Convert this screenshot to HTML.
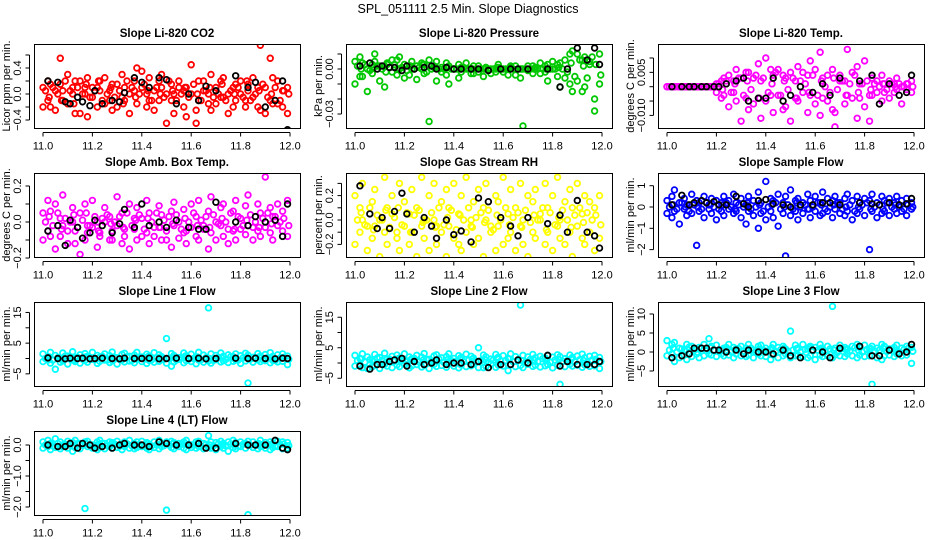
<!DOCTYPE html>
<html><head><meta charset="utf-8"><style>
body{margin:0;background:#fff;}
svg{display:block;font-family:"Liberation Sans",sans-serif;}
</style></head><body>
<svg id="chart" width="936" height="540" viewBox="0 0 936 540">
<rect width="936" height="540" fill="#fff"/>
<text x="468" y="13" text-anchor="middle" font-size="12.5">SPL_051111  2.5 Min. Slope Diagnostics</text>
</svg>
<script>
const times=[11.00,11.02,11.03,11.05,11.07,11.08,11.10,11.12,11.13,11.15,11.17,11.18,11.20,11.22,11.23,11.25,11.27,11.28,11.30,11.32,11.33,11.35,11.37,11.38,11.40,11.42,11.43,11.45,11.47,11.48,11.50,11.52,11.53,11.55,11.57,11.58,11.60,11.62,11.63,11.65,11.67,11.68,11.70,11.72,11.73,11.75,11.77,11.78,11.80,11.82,11.83,11.85,11.87,11.88,11.90,11.92,11.93,11.95,11.97,11.99];
const timesC=[11.01,11.025,11.04,11.06,11.075,11.09,11.11,11.125,11.14,11.16,11.175,11.19,11.21,11.225,11.24,11.26,11.275,11.29,11.31,11.325,11.34,11.36,11.375,11.39,11.41,11.425,11.44,11.46,11.475,11.49,11.51,11.525,11.54,11.56,11.575,11.59,11.61,11.625,11.64,11.66,11.675,11.69,11.71,11.725,11.74,11.76,11.775,11.79,11.81,11.825,11.84,11.86,11.875,11.89,11.91,11.925,11.94,11.96,11.975,11.995];
const blackTimes=[11.02,11.06,11.09,11.11,11.14,11.16,11.19,11.21,11.24,11.28,11.31,11.33,11.37,11.40,11.43,11.47,11.50,11.54,11.59,11.63,11.66,11.70,11.78,11.83,11.86,11.90,11.94,11.97,11.99];
const xTicks=[11.0,11.2,11.4,11.6,11.8,12.0];

const co2A=[0.1,0.2,-0.2,0.05,0.15,-0.1,0.3,0.0,0.2,-0.3,0.1,0.25,-0.05,0.1,0.2,-0.15,0.05,-0.25,0.15,0.3,-0.1,0.0,0.2,0.4,0.1,-0.2,0.25,0.05,-0.1,0.3,-0.45,0.15,0.0,0.2,-0.2,0.1,0.45,-0.25,0.2,0.05,-0.15,0.3,0.1,-0.05,0.25,0.0,-0.2,0.15,0.2,-0.1,0.05,0.25,-0.2,0.75,0.1,0.55,-0.15,0.2,0.05,-0.3];
const co2B=[-0.2,-0.1,0.15,-0.25,0.55,0.05,-0.15,0.1,-0.3,0.2,0.0,-0.35,0.1,-0.2,0.05,0.25,-0.1,0.15,-0.2,-0.05,0.1,-0.3,0.05,-0.15,0.35,0.0,-0.1,-0.25,0.2,0.1,0.0,-0.1,-0.3,0.1,0.05,-0.35,0.0,-0.45,-0.1,0.2,0.0,-0.25,-0.15,0.2,-0.05,-0.3,0.1,-0.1,0.0,-0.2,0.15,-0.05,0.1,-0.25,-0.3,-0.1,0.25,-0.15,-0.2,0.1];
const co2C=[0.05,-0.05,0.1,0.0,-0.1,0.2,0.05,-0.15,0.1,0.0,0.15,-0.05,0.05,0.2,-0.1,0.0,0.1,-0.05,0.05,-0.15,0.2,0.1,-0.05,0.0,0.15,0.05,-0.1,0.1,0.0,-0.05,0.2,0.05,-0.1,0.0,0.1,-0.05,0.15,0.0,-0.1,0.05,0.1,-0.05,0.0,0.15,-0.1,0.05,0.0,0.1,-0.05,0.2,-0.1,0.0,0.05,0.15,-0.05,0.0,0.1,-0.1,0.05,0.0];
const co2K=[0.2,0.18,-0.12,-0.15,-0.05,-0.12,-0.18,0.05,-0.15,-0.1,-0.12,0.02,0.25,0.18,0.1,0.25,0.22,-0.15,0.0,-0.1,0.12,0.05,0.28,0.1,0.18,-0.2,-0.1,0.2,-0.55];

const presA=[0.005,0.008,-0.005,0.0,0.003,0.01,-0.008,0.002,0.004,-0.002,0.006,0.0,0.003,-0.004,0.005,0.002,0.0,-0.003,0.006,0.002,-0.008,0.001,0.004,-0.01,0.0,0.003,-0.002,0.004,0.0,-0.003,0.002,-0.005,0.001,0.0,-0.002,0.003,0.0,-0.004,0.001,0.002,-0.006,0.0,0.002,-0.003,0.001,0.004,-0.002,0.003,0.0,-0.005,0.004,0.006,-0.01,0.012,0.01,-0.015,0.008,0.005,-0.02,0.01];
const presB=[-0.01,-0.005,0.004,-0.015,-0.003,0.005,0.002,-0.012,0.003,0.006,-0.004,0.008,-0.006,0.002,0.0,-0.007,0.004,0.003,-0.035,0.001,0.005,-0.002,-0.004,0.002,0.0,-0.006,0.001,0.0,-0.003,0.002,-0.002,0.0,0.001,-0.003,0.0,0.001,-0.002,0.0,0.002,-0.004,0.0,-0.038,-0.001,0.002,0.0,-0.003,0.002,-0.008,0.005,0.003,-0.012,-0.006,0.01,-0.015,-0.008,0.006,-0.012,0.003,-0.028,-0.01];
const presC=[0.002,0.0,0.003,-0.001,0.001,0.002,0.0,-0.002,0.001,0.003,0.0,0.001,-0.001,0.002,0.0,0.001,0.003,-0.002,0.0,0.001,0.0,0.0,0.001,0.0,0.0,0.0,0.001,0.0,0.0,0.0,0.0,0.0,0.0,0.0,0.001,0.0,0.0,0.0,0.0,0.0,0.0,0.0,0.0,0.0,0.0,0.0,0.0,0.0,0.0,0.001,0.0,-0.002,0.004,-0.005,0.006,0.002,-0.006,0.008,0.003,-0.004];
const presK=[0.002,0.004,0.0,0.002,0.001,0.001,-0.001,0.002,0.0,0.001,0.002,0.0,0.001,0.0,0.0,0.0,0.0,-0.001,0.0,0.0,0.0,0.0,0.0,-0.012,0.0,0.014,0.006,0.014,0.003];

const tempA=[0,0,0,0,0,0,0,0,0,0,0,0,0.001,0.002,-0.003,0.004,-0.002,0.006,0.003,-0.004,0.005,-0.006,0.008,0.002,0.01,-0.003,0.004,0.006,-0.008,0.003,0.005,-0.004,0.007,-0.002,0.004,0.009,-0.006,0.012,0.003,-0.005,0.006,-0.009,0.004,0.002,0.013,-0.004,0.007,0.001,0.009,-0.003,0.003,0.002,0.004,-0.002,0.002,0.001,0.003,0.0,0.001,0.002];
const tempB=[0,0,0,0,0,0,0,0,0,0,0,0,-0.002,-0.004,0.003,-0.007,0.002,-0.005,-0.012,0.005,-0.008,0.003,-0.004,-0.011,-0.005,0.006,-0.009,-0.003,0.004,-0.007,-0.012,0.002,-0.005,0.005,-0.009,-0.003,0.006,-0.01,-0.004,0.004,-0.008,-0.014,0.002,-0.006,-0.003,0.005,-0.011,-0.004,-0.007,-0.012,-0.003,-0.002,-0.005,0.001,-0.004,-0.002,-0.001,-0.006,-0.001,-0.002];
const tempC=[0,0,0,0,0,0,0,0,0,0,0,0,0.001,-0.001,0.002,-0.002,0.001,0.003,-0.003,0.002,-0.001,0.004,-0.004,0.003,-0.002,0.001,0.005,-0.003,0.002,-0.001,0.003,-0.004,0.002,0.001,-0.002,0.004,-0.003,0.002,0.0,-0.002,0.003,-0.001,0.002,-0.003,0.001,0.004,-0.002,0.001,0.002,-0.001,0.001,0.0,0.001,-0.001,0.001,0.0,0.001,0.0,0.001,0.0];
const tempK=[0,0,0,0,0,0,0,0,0.001,0.002,0.003,-0.005,-0.004,-0.004,0.003,-0.005,-0.003,0.0,-0.002,0.001,-0.003,0.003,0.002,0.004,-0.006,0.001,-0.003,-0.002,0.004];

const ambA=[0.05,0.12,-0.08,0.1,0.02,0.15,-0.05,0.08,-0.12,0.05,0.1,-0.02,0.12,0.0,-0.06,0.08,0.03,-0.1,0.14,0.05,-0.04,0.1,0.02,0.08,-0.08,0.12,0.05,-0.03,0.09,0.04,-0.1,0.06,0.11,0.0,0.07,-0.05,0.1,0.03,0.12,-0.02,0.06,0.14,0.0,0.08,0.1,-0.04,0.06,0.12,0.02,0.09,0.15,-0.03,0.1,0.05,0.25,0.08,0.03,0.1,0.06,0.12];
const ambB=[-0.1,-0.05,0.06,-0.15,-0.08,-0.02,-0.12,0.0,-0.05,-0.18,-0.1,-0.06,-0.03,-0.14,-0.08,0.0,-0.1,-0.05,-0.02,-0.12,-0.08,-0.15,-0.04,-0.1,0.02,-0.06,-0.12,-0.08,-0.03,-0.1,-0.05,-0.14,-0.02,-0.09,-0.06,-0.12,-0.03,-0.08,-0.1,-0.04,-0.15,-0.06,-0.1,-0.02,-0.08,-0.12,-0.05,-0.1,-0.04,-0.07,-0.02,-0.1,-0.05,-0.08,-0.03,-0.06,-0.1,-0.02,-0.05,-0.08];
const ambC=[0.0,0.03,-0.02,0.05,-0.04,0.02,0.0,0.04,-0.03,0.01,0.05,-0.02,0.03,-0.05,0.02,0.04,-0.01,0.0,0.03,-0.03,0.05,-0.02,0.01,0.04,-0.04,0.02,0.0,0.05,-0.03,0.01,0.03,-0.01,0.04,-0.04,0.02,0.0,0.05,-0.02,0.01,0.03,-0.03,0.04,-0.01,0.02,0.0,0.05,-0.04,0.03,-0.02,0.01,0.04,0.0,-0.03,0.02,0.05,-0.01,0.03,0.0,0.02,-0.02];
const ambK=[-0.05,-0.02,-0.13,0.01,-0.03,-0.09,-0.06,0.01,-0.02,-0.06,-0.01,0.07,-0.03,0.1,-0.02,0.0,-0.03,0.01,-0.03,-0.04,-0.04,0.11,0.0,-0.02,0.03,0.0,0.01,-0.08,0.1];

const rhA=[0.2,0.1,0.3,-0.05,0.15,0.25,0.0,0.35,0.1,0.2,-0.1,0.3,0.15,0.05,0.25,0.1,0.35,0.0,0.2,0.3,-0.05,0.15,0.25,0.1,0.3,0.05,0.2,0.35,0.0,0.15,0.25,0.1,0.3,-0.05,0.2,0.15,0.35,0.05,0.25,0.1,0.3,0.0,0.2,0.15,0.25,0.05,0.3,0.1,0.2,0.35,0.0,0.15,0.25,0.1,0.3,0.05,0.2,0.15,0.1,0.2];
const rhB=[-0.2,-0.1,0.0,-0.25,-0.15,-0.05,-0.3,-0.1,-0.2,0.05,-0.15,-0.25,-0.05,-0.2,-0.1,-0.3,-0.05,-0.15,-0.25,0.0,-0.2,-0.1,-0.3,-0.05,-0.15,-0.2,-0.25,-0.1,-0.05,-0.2,-0.15,-0.3,0.0,-0.1,-0.25,-0.05,-0.2,-0.15,-0.1,-0.25,-0.05,-0.2,-0.3,-0.1,-0.15,0.0,-0.2,-0.1,-0.25,-0.05,-0.15,-0.2,-0.1,-0.3,-0.05,-0.15,-0.2,-0.1,-0.25,-0.15];
const rhC=[0.0,0.06,-0.04,0.1,-0.08,0.04,0.0,0.08,-0.06,0.02,0.1,-0.04,0.06,-0.1,0.04,0.08,-0.02,0.0,0.06,-0.06,0.1,-0.04,0.02,0.08,-0.08,0.04,0.0,0.1,-0.06,0.02,0.06,-0.02,0.08,-0.08,0.04,0.0,0.1,-0.04,0.02,0.06,-0.06,0.08,-0.02,0.04,0.0,0.1,-0.08,0.06,-0.04,0.02,0.08,0.0,-0.06,0.04,0.1,-0.02,0.06,0.0,0.04,-0.04];
const rhK=[0.28,0.05,-0.07,0.02,-0.07,0.07,0.22,0.05,-0.1,0.02,-0.05,-0.15,0.0,-0.12,-0.09,-0.18,0.18,0.15,0.02,-0.05,-0.13,0.02,-0.03,0.04,-0.1,0.16,-0.1,-0.13,-0.23];

const flowA=[0.3,0.5,0.8,0.2,0.4,0.1,0.6,0.3,0.2,0.5,0.1,0.4,0.3,0.2,0.5,0.3,0.6,0.2,0.4,0.1,0.5,0.3,0.7,0.2,1.2,0.4,0.3,0.6,0.2,0.5,0.8,0.3,0.4,0.2,0.6,0.3,0.5,0.2,0.7,0.4,0.3,0.5,0.2,0.4,0.6,0.3,0.5,0.2,0.4,0.3,0.6,0.2,0.5,0.3,0.4,0.2,0.5,0.3,0.4,0.2];
const flowB=[-0.3,-0.5,-0.2,-0.8,-0.1,-0.4,-0.3,-1.8,-0.2,-0.5,-0.1,-0.3,-0.6,-0.2,-0.4,-0.1,-0.3,-0.2,-0.5,-0.8,-0.2,-0.4,-1.0,-0.3,-0.6,-0.2,-0.5,-0.9,-0.3,-2.3,-0.4,-0.2,-0.6,-0.3,-0.1,-0.5,-0.2,-0.4,-0.3,-0.2,-0.5,-0.1,-0.3,-0.4,-0.2,-0.6,-0.3,-0.1,-0.4,-2.0,-0.2,-0.5,-0.3,-0.2,-0.4,-0.1,-0.3,-0.2,-0.4,-0.1];
const flowC=[0.0,0.1,-0.1,0.2,0.0,-0.2,0.1,0.0,-0.1,0.2,0.1,0.0,-0.1,0.1,0.2,0.0,-0.1,0.1,0.0,0.2,-0.1,0.0,0.1,-0.2,0.0,0.1,0.2,-0.1,0.0,0.1,-0.1,0.2,0.0,0.1,-0.1,0.0,0.2,0.1,-0.1,0.0,0.1,0.2,-0.1,0.0,0.1,-0.2,0.0,0.1,0.2,-0.1,0.0,0.1,-0.1,0.2,0.0,0.1,0.0,-0.1,0.1,0.0];
const flowK=[0.1,0.55,0.1,0.2,0.3,0.2,0.25,0.1,0.1,0.5,0.15,0.0,0.3,0.35,0.15,0.1,0.0,0.1,0.1,0.2,0.2,0.1,0.2,0.15,0.1,0.2,0.1,0.15,0.4];

const l1A=[1.5,0.5,2.0,1.0,0.0,1.8,0.8,2.2,0.3,1.2,1.6,0.6,2.0,1.0,0.4,1.5,0.9,2.1,0.2,1.3,1.7,0.7,1.1,2.0,0.5,1.4,0.8,1.9,1.2,0.6,6.5,1.6,1.0,0.3,1.8,0.9,1.4,0.5,2.0,1.1,16.5,1.5,1.0,1.8,0.7,1.2,0.6,1.5,0.9,1.7,1.1,0.4,1.6,0.8,1.3,1.9,0.7,1.2,1.5,0.8];
const l1B=[-1.0,-0.5,-1.5,-3.5,-1.2,-0.8,-1.8,-0.4,-1.0,-1.5,-0.6,-1.2,-0.3,-1.6,-0.9,-0.5,-1.3,-0.7,-1.8,-0.4,-1.1,-0.8,-1.4,-0.2,-1.0,-1.6,-0.6,-1.2,-0.9,-0.4,-1.5,-2.5,-1.1,-0.3,-1.4,-0.7,-1.0,-1.7,-0.5,-1.2,-0.8,-1.5,-0.4,-1.1,-0.7,-1.3,-0.9,-0.5,-1.6,-0.8,-8.0,-1.2,-0.4,-1.0,-0.7,-1.4,-0.6,-1.1,-0.9,-2.0];
const l1C=[0.0,0.5,-0.5,0.3,-0.3,0.8,0.0,-0.6,0.4,-0.2,0.6,0.0,-0.4,0.2,0.7,-0.5,0.1,0.4,-0.3,0.0,0.5,-0.6,0.3,0.0,-0.2,0.6,-0.4,0.1,0.5,-0.3,0.0,0.4,-0.5,0.2,0.7,-0.2,0.0,0.5,-0.4,0.3,0.0,-0.6,0.4,0.1,-0.3,0.6,0.0,-0.5,0.2,0.4,-0.2,0.0,0.5,-0.4,0.3,0.0,-0.6,0.2,0.4,-0.3];
const l1K=[0.2,0.0,-0.1,0.1,0.0,0.1,-0.1,0.0,0.1,0.0,-0.1,0.1,0.0,0.0,0.1,-0.1,0.0,0.1,0.0,0.1,-0.1,0.0,0.1,0.0,0.1,0.0,-0.1,0.1,0.0];

const l2A=[2.5,1.5,3.0,2.0,1.0,2.8,1.8,3.2,1.3,2.2,2.6,1.6,3.0,2.0,1.4,2.5,1.9,3.1,1.2,2.3,2.7,1.7,2.1,3.0,1.5,2.4,1.8,2.9,2.2,1.6,5.0,2.6,2.0,1.3,2.8,1.9,2.4,1.5,3.0,2.1,19.0,2.5,2.0,2.8,1.7,2.2,1.6,2.5,1.9,2.7,2.1,1.4,2.6,1.8,2.3,2.9,1.7,2.2,2.5,1.8];
const l2B=[-1.0,-0.5,-1.5,-1.8,-1.2,-0.8,-1.8,-0.4,-1.0,-1.5,-0.6,-1.2,-0.3,-1.6,-0.9,-0.5,-1.3,-0.7,-1.8,-0.4,-1.1,-0.8,-1.4,-0.2,-1.0,-1.6,-0.6,-1.2,-0.9,-0.4,-1.5,-1.5,-1.1,-0.3,-1.4,-0.7,-1.0,-2.5,-0.5,-1.2,-0.8,-1.5,-0.4,-1.1,-0.7,-1.3,-0.9,-0.5,-1.6,-0.8,-7.0,-1.2,-0.4,-1.0,-0.7,-1.4,-0.6,-1.1,-0.9,-1.8];
const l2C=[0.8,1.3,0.3,1.1,0.5,1.6,0.8,0.2,1.2,0.6,1.4,0.8,0.4,1.0,1.5,0.3,0.9,1.2,0.5,0.8,1.3,0.2,1.1,0.8,0.6,1.4,0.4,0.9,1.3,0.5,0.8,1.2,0.3,1.0,1.5,0.6,0.8,1.3,0.4,1.1,0.8,0.2,1.2,0.9,0.5,1.4,0.8,0.3,1.0,1.2,0.6,0.8,1.3,0.4,1.1,0.8,0.2,1.0,1.2,0.5];
const l2K=[-1.0,-2.0,-0.5,-0.5,0.5,1.0,1.5,-1.0,0.5,-0.5,0.0,1.0,-0.5,0.0,0.0,-0.5,0.5,-1.5,-0.5,-0.5,1.0,0.0,2.5,-1.0,0.5,-0.5,-0.5,-0.5,0.5];

const l3A=[3.0,2.0,2.5,1.0,0.5,2.0,1.5,0.8,1.2,2.0,3.5,1.5,1.8,0.5,1.0,2.0,1.2,0.8,1.5,1.0,2.0,0.5,1.5,1.8,1.0,0.5,2.0,1.2,1.5,0.8,5.5,1.8,1.0,2.0,0.8,1.5,1.2,2.0,0.5,1.5,12.0,1.0,1.8,1.2,0.8,1.5,2.0,1.2,1.8,0.8,1.5,1.0,2.0,1.5,0.8,1.2,1.8,1.0,1.5,1.2];
const l3B=[-1.0,-0.5,-2.5,-1.5,-0.8,-2.0,-1.2,-0.5,-1.5,-1.0,-0.5,-0.8,-1.2,-0.5,-1.0,-0.8,-1.5,-0.5,-1.0,-1.2,-0.8,-1.5,-0.5,-1.0,-1.2,-2.0,-0.8,-1.5,-1.0,-0.5,-1.5,-1.0,-0.8,-1.2,-1.5,-1.0,-2.0,-0.8,-1.2,-1.0,-1.5,-0.8,-1.0,-1.2,-0.5,-1.0,-1.5,-0.8,-1.2,-1.0,-8.5,-1.5,-2.0,-1.0,-0.8,-1.2,-0.5,-1.0,-0.8,-3.0];
const l3C=[0.5,1.0,0.0,0.8,0.2,1.3,0.5,-0.1,0.9,0.3,1.1,0.5,0.1,0.7,1.2,0.0,0.6,0.9,0.2,0.5,1.0,-0.1,0.8,0.5,0.3,1.1,0.1,0.6,1.0,0.2,0.5,0.9,0.0,0.7,1.2,0.3,0.5,1.0,0.1,0.8,0.5,-0.1,0.9,0.6,0.2,1.1,0.5,0.0,0.7,0.9,0.3,0.5,1.0,0.1,0.8,0.5,-0.1,0.7,0.9,0.2];
const l3K=[-1.5,-1.0,-0.5,1.0,1.0,1.0,0.5,0.5,0.0,0.5,-0.5,0.5,0.0,0.0,-0.5,0.5,-1.0,-1.5,0.5,0.0,-1.5,1.0,1.5,-1.0,-1.0,0.5,-0.5,0.0,2.0];

const l4A=[0.1,0.15,0.05,0.2,0.1,0.0,0.12,0.08,0.15,0.05,0.1,0.12,0.0,0.1,0.15,0.05,0.1,0.08,0.12,0.0,0.1,0.15,0.05,0.1,0.12,0.08,0.0,0.1,0.15,0.05,0.1,0.12,0.08,0.05,0.1,0.15,0.0,0.1,0.12,0.05,0.3,0.1,0.08,0.12,0.05,0.1,0.15,0.08,0.1,0.05,0.12,0.1,0.0,0.15,0.08,0.1,0.05,0.12,0.1,0.08];
const l4B=[-0.1,-0.05,-0.15,-0.08,-0.12,-0.05,-0.1,-0.2,-0.08,-0.12,-2.05,-0.05,-0.1,-0.15,-0.08,-0.12,-0.05,-0.1,-0.08,-0.15,-0.05,-0.1,-0.12,-0.08,-0.05,-0.1,-0.15,-0.08,-0.12,-0.05,-2.1,-0.08,-0.12,-0.05,-0.1,-0.15,-0.08,-0.1,-0.05,-0.12,-0.08,-0.1,-0.15,-0.05,-0.1,-0.2,-0.08,-0.12,-0.05,-0.1,-2.25,-0.08,-0.12,-0.05,-0.1,-0.15,-0.08,-0.05,-0.12,-0.1];
const l4C=[0.0,0.03,-0.03,0.05,-0.02,0.02,0.0,-0.04,0.04,-0.01,0.03,0.0,-0.03,0.02,0.05,-0.02,0.01,0.03,-0.04,0.0,0.04,-0.03,0.02,0.0,-0.02,0.05,-0.03,0.01,0.03,-0.02,0.0,0.04,-0.03,0.02,0.05,-0.01,0.0,0.03,-0.04,0.02,0.0,-0.03,0.04,0.01,-0.02,0.03,0.0,-0.04,0.02,0.03,-0.01,0.0,0.04,-0.03,0.02,0.0,-0.04,0.01,0.03,-0.02];
const l4K=[0.0,-0.05,-0.05,0.05,-0.1,0.05,0.0,-0.1,-0.05,-0.1,0.0,0.05,0.0,0.0,-0.05,0.1,0.05,0.0,0.0,0.05,-0.1,-0.1,0.05,0.0,0.0,0.0,0.15,-0.1,-0.15];

const panels=[
 {name:'co2',title:'Slope Li-820 CO2',ylab:'Licor ppm per min.',col:'#ff0000',a:co2A,b:co2B,cc:co2C,k:co2K,row:0,c:0,zero:94,ppu:65,ticks:[-0.4,-0.2,0,0.2,0.4,0.6],labs:[[-0.4,'-0.4'],[0,'0.0'],[0.4,'0.4']]},
 {name:'pressure',title:'Slope Li-820 Pressure',ylab:'kPa per min.',col:'#00c800',a:presA,b:presB,cc:presC,k:presK,row:0,c:1,zero:69,ppu:1500,ticks:[-0.03,-0.02,-0.01,0,0.01],labs:[[-0.03,'-0.03'],[0,'0.00']]},
 {name:'temp',title:'Slope Li-820 Temp.',ylab:'degrees C per min.',col:'#ff00ff',a:tempA,b:tempB,cc:tempC,k:tempK,row:0,c:2,zero:86.7,ppu:2870,ticks:[-0.01,-0.005,0,0.005,0.01],labs:[[-0.01,'-0.010'],[0.005,'0.005']]},
 {name:'amb-box-temp',title:'Slope Amb. Box Temp.',ylab:'degrees C per min.',col:'#ff00ff',a:ambA,b:ambB,cc:ambC,k:ambK,row:1,c:0,zero:222,ppu:180,ticks:[-0.2,-0.1,0,0.1,0.2],labs:[[-0.2,'-0.2'],[0,'0.0'],[0.2,'0.2']]},
 {name:'gas-stream-rh',title:'Slope Gas Stream RH',ylab:'percent per min.',col:'#ffff00',a:rhA,b:rhB,cc:rhC,k:rhK,row:1,c:1,zero:220,ppu:122,ticks:[-0.2,-0.1,0,0.1,0.2,0.3],labs:[[-0.2,'-0.2'],[0,'0.0'],[0.2,'0.2']]},
 {name:'sample-flow',title:'Slope Sample Flow',ylab:'ml/min per min.',col:'#0000ff',a:flowA,b:flowB,cc:flowC,k:flowK,row:1,c:2,zero:207,ppu:21.3,ticks:[-2,-1,0,1],labs:[[-2,'-2'],[-1,'-1'],[0,'0'],[1,'1']]},
 {name:'line1-flow',title:'Slope Line 1 Flow',ylab:'ml/min per min.',col:'#00ffff',a:l1A,b:l1B,cc:l1C,k:l1K,row:2,c:0,zero:358.5,ppu:3.07,ticks:[-5,0,5,10,15],labs:[[-5,'-5'],[5,'5'],[15,'15']]},
 {name:'line2-flow',title:'Slope Line 2 Flow',ylab:'ml/min per min.',col:'#00ffff',a:l2A,b:l2B,cc:l2C,k:l2K,row:2,c:1,zero:363,ppu:3.05,ticks:[-5,0,5,10,15],labs:[[-5,'-5'],[5,'5'],[15,'15']]},
 {name:'line3-flow',title:'Slope Line 3 Flow',ylab:'ml/min per min.',col:'#00ffff',a:l3A,b:l3B,cc:l3C,k:l3K,row:2,c:2,zero:352,ppu:3.8,ticks:[-5,0,5,10],labs:[[-5,'-5'],[0,'0'],[5,'5'],[10,'10']]},
 {name:'line4-flow',title:'Slope Line 4 (LT) Flow',ylab:'ml/min per min.',col:'#00ffff',a:l4A,b:l4B,cc:l4C,k:l4K,row:3,c:0,zero:445,ppu:31,ticks:[-2,-1.5,-1,-0.5,0],labs:[[-2,'-2.0'],[-1,'-1.0'],[0,'0.0']]}
];
const NS='http://www.w3.org/2000/svg';
const svg=document.getElementById('chart');
function mk(tag,attrs,parent){const e=document.createElementNS(NS,tag);for(const k in attrs)e.setAttribute(k,attrs[k]);(parent||svg).appendChild(e);return e;}
const W=266,H=84;
panels.forEach(p=>{
  const L=34+p.c*312, T=44+p.row*129;
  const g=mk('g',{});
  
  
  const xs=v=>L+9+(v-11)*247;
  const ys=v=>p.zero-v*p.ppu;
  const t=mk('text',{x:L+W/2,y:T-7,'text-anchor':'middle','font-size':'11.5','font-weight':'bold'},g);
  t.textContent=p.title;
  
  
  const cid='clip'+p.name;
  const cp=mk('clipPath',{id:cid},g);mk('rect',{x:L,y:T,width:W,height:H},cp);
  const pts=mk('g',{'clip-path':'url(#'+cid+')',fill:'none','stroke-width':'1.8'},g);
  [[p.a,times],[p.b,times],[p.cc,timesC]].forEach(([arr,tt])=>arr.forEach((v,i)=>{
    const c=mk('circle',{cx:xs(tt[i]),cy:ys(v),r:2.8,stroke:p.col},pts);
    
    
  }));
  p.k.forEach((v,i)=>{
    const c=mk('circle',{cx:xs(blackTimes[i]),cy:ys(v),r:2.8,stroke:'#000'},pts);
    
    
  });
  const box=mk('rect',{x:L+.5,y:T+.5,width:W,height:H,fill:'none',stroke:'#000','stroke-width':'1'},g);
  
  
  const xa=mk('g',{stroke:'#000','stroke-width':'1'},g);
  
  
  const ay=T+H+4.5;
  mk('line',{x1:xs(11),x2:xs(12),y1:ay,y2:ay},xa);
  xTicks.forEach(v=>{
    mk('line',{x1:xs(v),x2:xs(v),y1:ay,y2:ay+4},xa);
    const tl=mk('text',{x:xs(v),y:ay+17,'text-anchor':'middle','font-size':'11',stroke:'none'},xa);
    tl.textContent=v.toFixed(1);
    
    
  });
  const ya=mk('g',{stroke:'#000','stroke-width':'1'},g);
  
  
  const ax=L-4.5;
  mk('line',{x1:ax,x2:ax,y1:ys(p.ticks[0]),y2:ys(p.ticks[p.ticks.length-1])},ya);
  p.ticks.forEach(v=>mk('line',{x1:ax-4,x2:ax,y1:ys(v),y2:ys(v)},ya));
  p.labs.forEach(([v,s])=>{
    const tl=mk('text',{x:0,y:0,transform:`translate(${L-13},${ys(v)}) rotate(-90)`,'text-anchor':'middle','font-size':'11',stroke:'none'},ya);
    tl.textContent=s.replace('-','\u2212');
    
    
  });
  const yl=mk('text',{x:0,y:0,transform:`translate(${L-24},${T+H/2}) rotate(-90)`,'text-anchor':'middle','font-size':'11'},g);
  yl.textContent=p.ylab;
  
  
});
</script>
</body></html>
